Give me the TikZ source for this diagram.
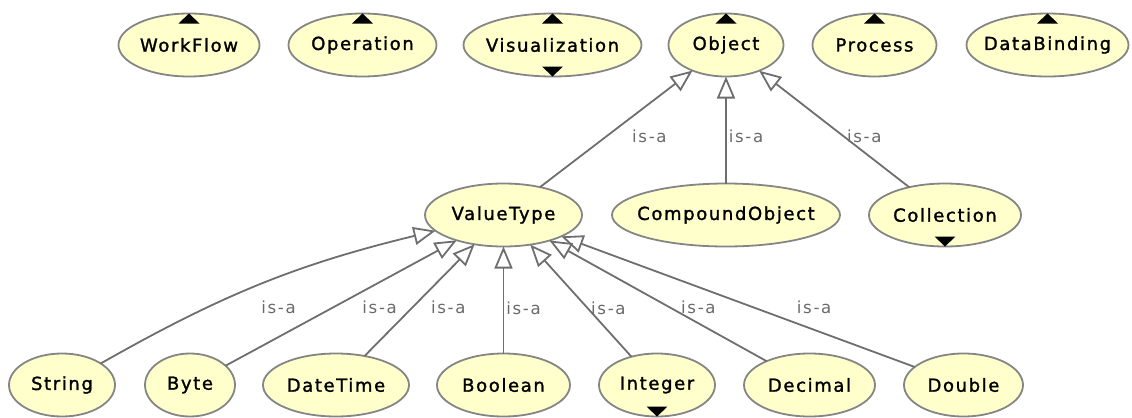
\documentclass[tikz,border=0pt]{standalone}
\usepackage{fontspec}
\usepackage{xcolor}
\usepackage{tikz}
\usetikzlibrary{shapes.geometric, arrows.meta, positioning}
\newfontfamily\classfont[LetterSpace=9,FakeBold=1.4]{DejaVu Sans}
\newfontfamily\relfont[LetterSpace=10]{DejaVu Sans}
\definecolor{clsfill}{HTML}{FFFFCC}
\definecolor{clsline}{HTML}{858585}
\definecolor{isaline}{HTML}{6E6E6E}
\definecolor{lblgray}{HTML}{6A6A6A}
\tikzset{
  cls/.style = {ellipse, draw=clsline, fill=clsfill, line width=0.9pt,
    minimum height=31.5pt, inner xsep=-6pt, inner ysep=2pt, outer sep=0pt,
    font=\classfont\fontsize{9}{10}\selectfont},
  isa/.style = {draw=isaline, line width=0.9pt,
    -{Triangle[open, length=11pt, width=9pt]}},
  lbl/.style = {anchor=west, inner sep=0pt, text=lblgray,
    font=\relfont\fontsize{8.3}{9}\selectfont},
  marker/.style = {fill=black},
}

\begin{document}
\begin{tikzpicture}[node distance=53.5pt and 14.5pt]
  \useasboundingbox (0,0) rectangle (566pt,-209pt);

  % Top row
  \node[cls, minimum width=57.5pt] (obj) at (363pt,-22.5pt) {Object};
  \node[cls, minimum width=89pt, left=13.5pt of obj]   (vis)  {Visualization};
  \node[cls, minimum width=74pt, left=13.5pt of vis]   (op)   {Operation};
  \node[cls, minimum width=70.5pt, left=14.5pt of op]  (wf)   {WorkFlow};
  \node[cls, minimum width=62pt, right=14.5pt of obj]  (proc) {Process};
  \node[cls, minimum width=81pt, right=15pt of proc]   (db)   {DataBinding};

  % Middle row
  \node[cls, minimum width=114pt, below=of obj]        (cmpd) {CompoundObject};
  \node[cls, minimum width=78.5pt, left=15pt of cmpd]  (vt)   {ValueType};
  \node[cls, minimum width=76pt, right=14.5pt of cmpd] (coll) {Collection};

  % Bottom row
  \node[cls, minimum width=66.5pt, below=of vt]        (bool) {Boolean};
  \node[cls, minimum width=73pt, left=14pt of bool]    (dt)   {DateTime};
  \node[cls, minimum width=45pt, left=14pt of dt]      (byte) {Byte};
  \node[cls, minimum width=53pt, left=15pt of byte]    (str)  {String};
  \node[cls, minimum width=58pt, right=14.5pt of bool] (int)  {Integer};
  \node[cls, minimum width=65.5pt, right=14.5pt of int] (dec) {Decimal};
  \node[cls, minimum width=59.5pt, right=14.5pt of dec] (dbl) {Double};

  % Expand markers
  \fill[marker] (wf.north) -- ++(-5.25pt,-5pt) -- ++(10.5pt,0) -- cycle;
  \fill[marker] (op.north) -- ++(-5.25pt,-5pt) -- ++(10.5pt,0) -- cycle;
  \fill[marker] (vis.north) -- ++(-5.25pt,-5pt) -- ++(10.5pt,0) -- cycle;
  \fill[marker] (obj.north) -- ++(-5.25pt,-5pt) -- ++(10.5pt,0) -- cycle;
  \fill[marker] (proc.north) -- ++(-5.25pt,-5pt) -- ++(10.5pt,0) -- cycle;
  \fill[marker] (db.north) -- ++(-5.25pt,-5pt) -- ++(10.5pt,0) -- cycle;
  \fill[marker] (vis.south) -- ++(-5.25pt,5pt) -- ++(10.5pt,0) -- cycle;
  \fill[marker] (coll.south) -- ++(-5.25pt,5pt) -- ++(10.5pt,0) -- cycle;
  \fill[marker] (int.south) -- ++(-5.25pt,5pt) -- ++(10.5pt,0) -- cycle;

  % is-a links to Object
  \draw[isa] (vt) -- node[lbl, pos=0.435, xshift=12.5pt] {is-a} (obj);
  \draw[isa] (cmpd) -- node[lbl, pos=0.44, xshift=1pt] {is-a} (obj);
  \draw[isa] (coll) -- node[lbl, pos=0.44, xshift=1.5pt] {is-a} (obj);

  % is-a links to ValueType
  \draw[isa] (str) to[bend left=8] node[lbl, pos=0.45, xshift=6.5pt, yshift=-9pt] {is-a} (vt);
  \draw[isa] (byte) -- node[lbl, pos=0.4625, xshift=14.5pt] {is-a} (vt);
  \draw[isa] (dt) -- node[lbl, pos=0.432, xshift=9pt] {is-a} (vt);
  \draw[isa] (bool) -- node[lbl, pos=0.427, xshift=1pt] {is-a} (vt);
  \draw[isa] (int) -- node[lbl, pos=0.436, xshift=1.5pt] {is-a} (vt);
  \draw[isa] (dec) -- node[lbl, pos=0.4435, xshift=5pt] {is-a} (vt);
  \draw[isa] (dbl) -- node[lbl, pos=0.4545, xshift=21pt] {is-a} (vt);

\end{tikzpicture}
\end{document}
